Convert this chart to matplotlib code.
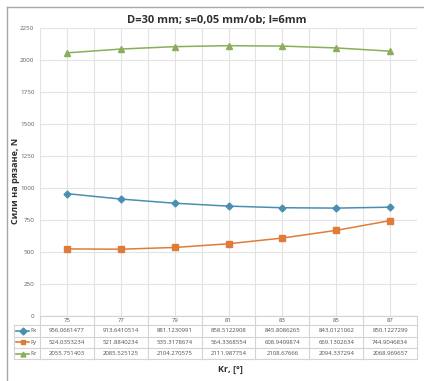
import numpy as np
import matplotlib
matplotlib.use("Agg")
import matplotlib.pyplot as plt
from matplotlib.lines import Line2D
from matplotlib.transforms import blended_transform_factory

plt.rcParams['font.family'] = ['Open Sans', 'DejaVu Sans']

# data
angles = [75, 77, 79, 81, 83, 85, 87]
fx = [956.0661477, 913.6410514, 881.1230991, 858.5122908, 845.8086265, 843.0121062, 850.1227299]
fy = [524.0353234, 521.8840234, 535.3178674, 564.3368554, 608.9409874, 669.1302634, 744.9046834]
fz = [2055.751403, 2085.525125, 2104.270575, 2111.987754, 2108.67666, 2094.337294, 2068.969657]
names = ['Fx', 'Fy', 'Fz']
colors = ['#4a8fb0', '#e07c3a', '#8aae5a']
markers = ['D', 's', '^']
yticks = np.arange(0, 2251, 250)

W, H = 424, 381
fig = plt.figure(figsize=(W / 100, H / 100), dpi=100)

def fy_(py):
    # pixel from top -> figure fraction
    return 1 - py / H

def fx_(px):
    return px / W

left, right, top, bottom = 40, 417, 28, 316
ax = fig.add_axes([fx_(left), fy_(bottom), fx_(right) - fx_(left), fy_(top) - fy_(bottom)])

x = np.arange(len(angles))
grid_c = '#e3e3e3'
for v in np.arange(-0.5, len(angles) - 0.4, 0.5):
    ax.axvline(v, color=grid_c, lw=0.8, zorder=0)
for t in yticks:
    ax.axhline(t, color=grid_c, lw=0.8, zorder=0)

for vals, c, m in zip([fx, fy, fz], colors, markers):
    ax.plot(x, vals, color=c, lw=1.1, marker=m, ms=4 if m != 'D' else 3.5, mfc=c, mec=c, zorder=3)

ax.set_xlim(-0.5, len(angles) - 0.5)
ax.set_ylim(0, 2250)
ax.set_yticks(yticks)
ax.set_yticklabels([str(t) for t in yticks], fontsize=4.5, color='#606060')
ax.set_xticks([])
ax.tick_params(axis='y', length=0, pad=4)
for s in ax.spines.values():
    s.set_visible(False)
ax.axhline(0, color='#d0d0d0', lw=0.8, zorder=1)

fig.text(fx_(217), fy_(21), 'D=30 mm; s=0,05 mm/ob; l=6mm', fontsize=8, fontweight='bold',
         color='#303030', ha='center', va='center')
ax.set_ylabel('Сили на рязане, N', fontsize=6.5, fontweight='bold', color='#303030')
ax.yaxis.set_label_coords((20 - left) / (right - left), 0.47)

# data table under the axes
tr = blended_transform_factory(ax.transData, fig.transFigure)
line_c = '#d4d4d4'
rows_y = [316, 325, 336.5, 348, 359]
leg_l = 14
for i, yy in enumerate(rows_y):
    x0 = fx_(leg_l) if i >= 1 else fx_(left)
    fig.add_artist(Line2D([x0, fx_(right)], [fy_(yy), fy_(yy)], color=line_c, lw=0.8,
                          transform=fig.transFigure))
for v in np.arange(-0.5, len(angles), 1.0):
    fig.add_artist(Line2D([v, v], [fy_(rows_y[0]), fy_(rows_y[-1])], color=line_c, lw=0.8,
                          transform=tr))
fig.add_artist(Line2D([fx_(leg_l)] * 2, [fy_(rows_y[1]), fy_(rows_y[-1])], color=line_c, lw=0.8,
                      transform=fig.transFigure))

txt_c = '#505050'
for xi, a in zip(x, angles):
    fig.text(xi, fy_((rows_y[0] + rows_y[1]) / 2), str(a), transform=tr,
             ha='center', va='center', fontsize=4.3, color=txt_c)
for r, (vals, name, c, m) in enumerate(zip([fx, fy, fz], names, colors, markers)):
    yc = fy_((rows_y[r + 1] + rows_y[r + 2]) / 2)
    for xi, v in zip(x, vals):
        fig.text(xi, yc, f'{v:.10g}', transform=tr, ha='center', va='center',
                 fontsize=4.3, color=txt_c)
    fig.add_artist(Line2D([fx_(16), fx_(29)], [yc, yc], color=c, lw=1.2,
                          transform=fig.transFigure))
    fig.add_artist(Line2D([fx_(22.5)], [yc], color=c, marker=m, ms=3.5, mfc=c, mec=c,
                          transform=fig.transFigure))
    fig.text(fx_(30), yc, name, ha='left', va='center', fontsize=4.3, color=txt_c)

fig.text(fx_(230), fy_(369), 'Kr, [°]', ha='center', va='center', fontsize=6.5,
         fontweight='bold', color='#303030')

# chart border
bc = '#a8a8a8'
fig.add_artist(Line2D([fx_(7), fx_(7)], [fy_(7), 0], color=bc, lw=1, transform=fig.transFigure))
fig.add_artist(Line2D([fx_(7), 1], [fy_(7), fy_(7)], color=bc, lw=1, transform=fig.transFigure))

fig.savefig('out.png', dpi=100, facecolor='white')
